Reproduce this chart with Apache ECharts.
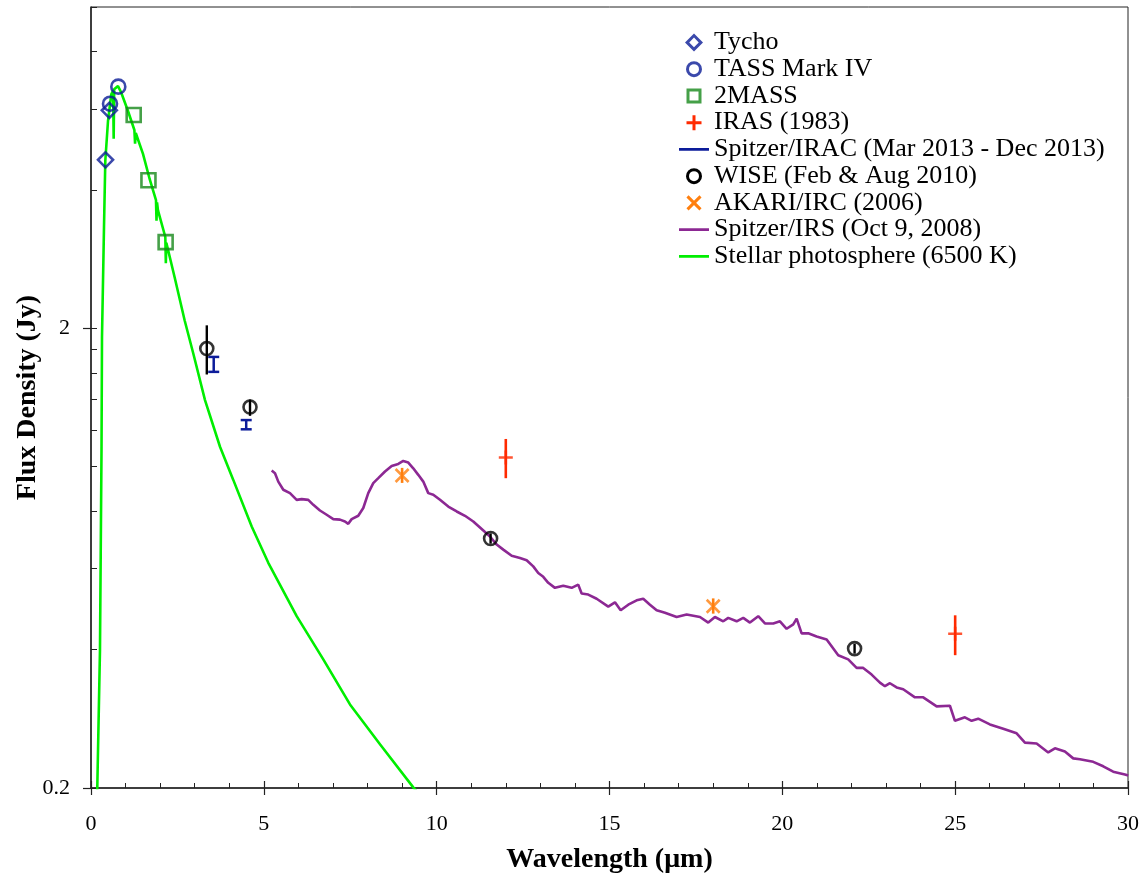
<!DOCTYPE html>
<html>
<head>
<meta charset="utf-8">
<script src="https://cdn.jsdelivr.net/npm/echarts@6/dist/echarts.min.js"></script>
<style>
  html, body { margin: 0; padding: 0; background: #fff; }
  #chart { width: 1148px; height: 879px; }
</style>
</head>
<body>
<div id="chart"></div>
<script>
// photometry, wavelength (um) / flux (Jy)
var tychoPts = [[0.42, 4.65], [0.53, 5.96]];
var tassPts = [[0.55, 6.16], [0.79, 6.71]];
var twomassPts = [[1.235, 5.82], [1.662, 4.20], [2.159, 3.08]];
var irasPts = [[12, 1.047], [25, 0.433]];
var irasErr = [[12, 0.944, 1.149], [25, 0.389, 0.475]];
var iracErr = [[3.55, 1.608, 1.733], [4.49, 1.206, 1.263]];
var wisePts = [[3.35, 1.807], [4.6, 1.348], [11.56, 0.698], [22.09, 0.402]];
var wiseErr = [[3.35, 1.587, 2.03], [4.6, 1.29, 1.40], [11.56, 0.68, 0.716], [22.09, 0.392, 0.412]];
var akariPts = [[9, 0.957], [18, 0.497]];
var akariErr = [[9, 0.922, 0.994], [18, 0.479, 0.517]];

// Spitzer/IRS spectrum
var irsSpec = [
  [5.227, 0.981], [5.323, 0.968], [5.418, 0.928], [5.563, 0.891], [5.756, 0.876], [5.950, 0.847],
  [6.095, 0.850], [6.286, 0.847], [6.431, 0.826], [6.624, 0.803], [6.818, 0.786], [7.009, 0.769],
  [7.203, 0.767], [7.347, 0.760], [7.443, 0.751], [7.541, 0.769], [7.732, 0.782], [7.877, 0.813],
  [8.021, 0.876], [8.166, 0.921], [8.311, 0.944], [8.505, 0.976], [8.698, 1.004], [8.889, 1.014],
  [9.034, 1.029], [9.179, 1.021], [9.323, 0.992], [9.468, 0.960], [9.613, 0.928], [9.757, 0.876],
  [9.902, 0.869], [10.096, 0.847], [10.336, 0.819], [10.579, 0.799], [10.819, 0.782], [11.059, 0.760],
  [11.302, 0.732], [11.542, 0.705], [11.736, 0.677], [11.927, 0.660], [12.170, 0.640], [12.410, 0.633],
  [12.603, 0.626], [12.794, 0.607], [12.939, 0.587], [13.084, 0.576], [13.228, 0.559], [13.422, 0.545],
  [13.662, 0.551], [13.905, 0.545], [14.096, 0.554], [14.194, 0.530], [14.385, 0.527], [14.628, 0.516],
  [14.964, 0.496], [15.158, 0.507], [15.323, 0.487], [15.543, 0.501], [15.786, 0.512], [15.976, 0.516],
  [16.170, 0.501], [16.364, 0.487], [16.604, 0.481], [16.943, 0.471], [17.232, 0.477], [17.617, 0.471],
  [17.857, 0.458], [18.050, 0.471], [18.291, 0.461], [18.435, 0.469], [18.678, 0.461], [18.869, 0.469],
  [19.063, 0.458], [19.303, 0.473], [19.497, 0.456], [19.737, 0.456], [19.931, 0.461], [20.124, 0.444],
  [20.316, 0.454], [20.414, 0.467], [20.558, 0.434], [20.749, 0.434], [20.992, 0.427], [21.282, 0.421],
  [21.617, 0.389], [21.906, 0.381], [22.149, 0.365], [22.340, 0.365], [22.583, 0.353], [22.823, 0.339],
  [22.968, 0.333], [23.113, 0.338], [23.306, 0.331], [23.497, 0.328], [23.836, 0.315], [24.076, 0.315],
  [24.464, 0.301], [24.848, 0.302], [24.993, 0.280], [25.282, 0.285], [25.476, 0.280], [25.667, 0.283],
  [26.005, 0.275], [26.390, 0.269], [26.778, 0.263], [27.018, 0.251], [27.356, 0.250], [27.692, 0.239],
  [27.886, 0.244], [28.175, 0.240], [28.415, 0.232], [28.609, 0.231], [28.994, 0.228], [29.283, 0.223],
  [29.572, 0.217], [29.910, 0.214], [30.006, 0.213]
];

// 6500 K model photosphere
var photoSpec = [
  [0.17, 0.18], [0.26, 0.40], [0.304, 1.087], [0.318, 1.91], [0.376, 3.32], [0.414, 4.63],
  [0.492, 5.65], [0.587, 6.46], [0.640, 6.58], [0.656, 5.17], [0.670, 6.62], [0.686, 6.67],
  [0.781, 6.73], [0.876, 6.51], [1.070, 5.94], [1.255, 5.40], [1.275, 5.04], [1.295, 5.32],
  [1.504, 4.79], [1.698, 4.22], [1.880, 3.80], [1.895, 3.43], [1.910, 3.76], [1.938, 3.61],
  [2.150, 3.16], [2.165, 2.77], [2.180, 3.07], [2.421, 2.58], [2.710, 2.08], [2.959, 1.763],
  [3.298, 1.396], [3.732, 1.105], [4.116, 0.936], [4.649, 0.741], [5.129, 0.618], [5.950, 0.473],
  [6.720, 0.381], [7.492, 0.304], [8.360, 0.249], [9.323, 0.2006], [9.6, 0.19]
];

var xTicks = [0, 5, 10, 15, 20, 25, 30];
var yMinorTicks = [0.2, 0.4, 0.6, 0.8, 1.0, 1.2, 1.4, 1.6, 1.8, 2, 4, 6, 8, 10];
var yLabelTicks = [0.2, 2];

var FONT = 'Liberation Serif';
var BLUE = '#0a1c96';
var IRAC_BLUE = '#0c1c9a';
var GREEN2M = '#17881a';
var RED = '#ff2a00';
var ORANGE = '#ff7f0e';
var PURPLE = '#8c2893';
var LIME = '#00ee00';

// legend glyphs, drawn in a 30x18 box (tiny corner dots pin the box size)
var BOX = 'M0,0h0.01v0.01h-0.01ZM29.99,17.99h0.01v0.01h-0.01Z';
var ICON = {
  diamond: 'path://' + BOX + 'M15,0L24,9L15,18L6,9ZM15,4.24L10.24,9L15,13.76L19.76,9Z',
  ring: 'path://' + BOX + 'M7,9A8,8 0 1 1 23,9A8,8 0 1 1 7,9ZM10,9A5,5 0 1 0 20,9A5,5 0 1 0 10,9Z',
  square: 'path://' + BOX + 'M7.5,1.5H22.5V16.5H7.5ZM10.5,4.5V13.5H19.5V4.5Z',
  plus: 'path://' + BOX + 'M13.5,1.5H16.5V7.5H22.5V10.5H16.5V16.5H13.5V10.5H7.5V7.5H13.5Z',
  cross: 'path://' + BOX + 'M9.56,1.44L22.56,14.44L20.44,16.56L7.44,3.56ZM20.44,1.44L22.56,3.56L9.56,16.56L7.44,14.44Z',
  line: 'path://' + BOX + 'M0,7.7H30V10.3H0Z'
};

var chart = echarts.init(document.getElementById('chart'), null, { renderer: 'canvas' });

// vertical error bar, optional caps (capHalf in px)
function errBar(color, capHalf, width) {
  return function (params, api) {
    var x = api.value(0);
    var p1 = api.coord([x, api.value(1)]);
    var p2 = api.coord([x, api.value(2)]);
    var st = { stroke: color, lineWidth: width };
    var kids = [{ type: 'line', shape: { x1: p1[0], y1: p1[1], x2: p2[0], y2: p2[1] }, style: st }];
    if (capHalf) {
      kids.push({ type: 'line', shape: { x1: p1[0] - capHalf, y1: p1[1], x2: p1[0] + capHalf, y2: p1[1] }, style: st });
      kids.push({ type: 'line', shape: { x1: p2[0] - capHalf, y1: p2[1], x2: p2[0] + capHalf, y2: p2[1] }, style: st });
    }
    return { type: 'group', children: kids };
  };
}

var hollow = function (c) {
  return { color: 'rgba(255,255,255,0)', borderColor: c, borderWidth: 2.6 };
};
var legendItem = function (name, icon, color) {
  return { name: name, icon: ICON[icon], itemStyle: { color: color, borderWidth: 0 } };
};

var option = {
  animation: false,
  backgroundColor: '#fff',
  textStyle: { fontFamily: FONT },
  grid: {
    left: 91, right: 20, top: 7, bottom: 90,
    show: true, borderColor: '#222', borderWidth: 1, backgroundColor: 'transparent'
  },
  legend: {
    orient: 'vertical',
    left: 674, top: 24,
    itemWidth: 30, itemHeight: 18,
    itemGap: 0,
    selectedMode: false,
    textStyle: { fontFamily: FONT, fontSize: 26, color: '#000', lineHeight: 26.75 },
    data: [
      legendItem('Tycho', 'diamond', BLUE),
      legendItem('TASS Mark IV', 'ring', BLUE),
      legendItem('2MASS', 'square', GREEN2M),
      legendItem('IRAS (1983)', 'plus', RED),
      legendItem('Spitzer/IRAC (Mar 2013 - Dec 2013)', 'line', IRAC_BLUE),
      legendItem('WISE (Feb & Aug 2010)', 'ring', '#000'),
      legendItem('AKARI/IRC (2006)', 'cross', ORANGE),
      legendItem('Spitzer/IRS (Oct 9, 2008)', 'line', PURPLE),
      legendItem('Stellar photosphere (6500 K)', 'line', LIME)
    ]
  },
  xAxis: [{
    type: 'value', min: 0, max: 30, interval: 5,
    name: 'Wavelength (\u03bcm)', nameLocation: 'middle', nameGap: 58,
    nameTextStyle: { fontFamily: FONT, fontSize: 28, fontWeight: 'bold', color: '#000' },
    axisLine: { onZero: false, lineStyle: { color: '#222', width: 1.5 } },
    axisTick: { inside: true, length: 7, lineStyle: { color: '#222', width: 1.2 } },
    minorTick: { show: true, splitNumber: 5, length: 5, lineStyle: { color: '#222', width: 1 } },
    axisLabel: { fontFamily: FONT, fontSize: 22, color: '#000', margin: 25 },
    splitLine: { show: false }
  }, {
    type: 'value', min: 0, max: 30, interval: 5, position: 'bottom',
    axisLine: { show: false, onZero: false },
    axisTick: { length: 7, lineStyle: { color: '#222', width: 1.2 } },
    axisLabel: { show: false },
    splitLine: { show: false }
  }],
  yAxis: [{
    type: 'log', logBase: 10, min: 0.2, max: 10,
    name: 'Flux Density (Jy)', nameLocation: 'middle', nameGap: 49, nameRotate: 90,
    nameTextStyle: { fontFamily: FONT, fontSize: 28, fontWeight: 'bold', color: '#000' },
    axisLine: { onZero: false, lineStyle: { color: '#222', width: 1.5 } },
    axisTick: { inside: true, length: 6, customValues: yMinorTicks, lineStyle: { color: '#222', width: 1 } },
    axisLabel: { show: false },
    splitLine: { show: false }
  }, {
    type: 'log', logBase: 10, min: 0.2, max: 10, position: 'left',
    axisLine: { show: false, onZero: false },
    axisTick: { length: 8, customValues: yLabelTicks, lineStyle: { color: '#222', width: 1.2 } },
    axisLabel: {
      fontFamily: FONT, fontSize: 22, color: '#000', margin: 21, customValues: yLabelTicks,
      formatter: function (v) { return String(Math.round(v * 10) / 10); }
    },
    splitLine: { show: false }
  }],
  series: [
    {
      name: 'Stellar photosphere (6500 K)', type: 'line', data: photoSpec,
      showSymbol: false, symbol: 'none', clip: true, z: 2,
      lineStyle: { color: LIME, width: 2.6 }, itemStyle: { color: LIME }
    },
    {
      name: 'Spitzer/IRS (Oct 9, 2008)', type: 'line', data: irsSpec,
      showSymbol: false, symbol: 'none', clip: true, z: 3,
      lineStyle: { color: PURPLE, width: 2.6 }, itemStyle: { color: PURPLE }
    },
    {
      name: 'Tycho', type: 'scatter', data: tychoPts, z: 5,
      symbol: 'diamond', symbolSize: 15, itemStyle: hollow(BLUE)
    },
    {
      name: 'TASS Mark IV', type: 'scatter', data: tassPts, z: 5,
      symbol: 'circle', symbolSize: 14, itemStyle: hollow(BLUE)
    },
    {
      name: '2MASS', type: 'scatter', data: twomassPts, z: 5,
      symbol: 'rect', symbolSize: 14, itemStyle: hollow(GREEN2M)
    },
    {
      name: 'IRAS (1983)', type: 'custom', data: irasErr, z: 5,
      itemStyle: { color: RED }, renderItem: errBar(RED, 0, 2.6)
    },
    {
      name: 'IRAS (1983)', type: 'scatter', data: irasPts, z: 5,
      symbol: 'path://M5,0L5,10M0,5L10,5', symbolSize: 14,
      itemStyle: { color: RED, borderColor: RED, borderWidth: 2.6 }
    },
    {
      name: 'Spitzer/IRAC (Mar 2013 - Dec 2013)', type: 'custom', data: iracErr, z: 5,
      itemStyle: { color: IRAC_BLUE }, renderItem: errBar(IRAC_BLUE, 5.5, 2.5)
    },
    {
      name: 'WISE (Feb & Aug 2010)', type: 'custom', data: wiseErr, z: 5,
      itemStyle: { color: '#000' }, renderItem: errBar('#000', 0, 2.4)
    },
    {
      name: 'WISE (Feb & Aug 2010)', type: 'scatter', data: wisePts, z: 6,
      symbol: 'circle', symbolSize: 13, itemStyle: hollow('#000')
    },
    {
      name: 'AKARI/IRC (2006)', type: 'custom', data: akariErr, z: 5,
      itemStyle: { color: ORANGE }, renderItem: errBar(ORANGE, 0, 2.6)
    },
    {
      name: 'AKARI/IRC (2006)', type: 'scatter', data: akariPts, z: 6,
      symbol: 'path://M0,0L10,10M10,0L0,10', symbolSize: 13,
      itemStyle: { color: ORANGE, borderColor: ORANGE, borderWidth: 2.6 }
    }
  ]
};

chart.setOption(option);
</script>
</body>
</html>
